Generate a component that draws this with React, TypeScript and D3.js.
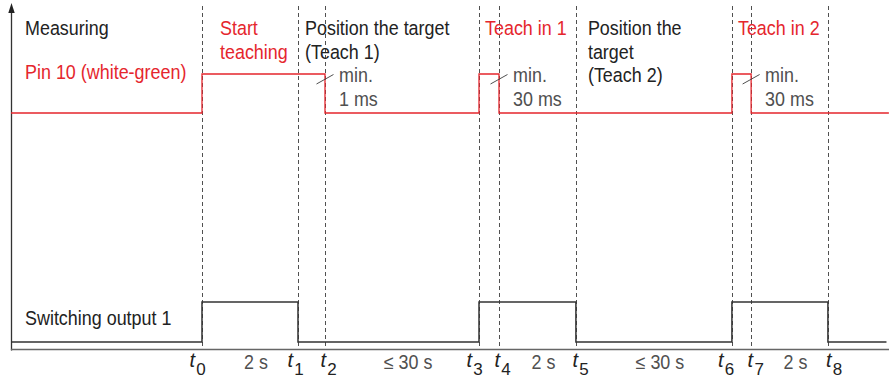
import React from 'react';
import * as d3 from 'd3';

// ---- data ----
const eventIds = ['0', '1', '2', '3', '4', '5', '6', '7', '8'];
const eventTimes = [0, 2, 2.5625, 5.771, 6.1875, 7.79, 11.04, 11.44, 13.04];

const pinTimes = [-3.979, 0, 2.5625, 5.771, 6.1875, 11.04, 11.44, 14.31];
const pinLevels = [0, 1, 0, 1, 0, 1, 0, 0];

const outTimes = [-3.979, 0, 2, 5.771, 7.79, 11.04, 13.04, 14.26];
const outLevels = [0, 1, 0, 1, 0, 1, 0, 0];

const durationLabels = ['2 s', '\u2264 30 s', '2 s', '\u2264 30 s', '2 s'];
const durationFrom = [0, 2, 4, 5, 7];
const durationTo = [1, 3, 5, 6, 8];

const phaseTexts = [
  ['Start', 'teaching'],
  ['Position the target', '(Teach 1)'],
  ['Teach in 1'],
  ['Position the', 'target', '(Teach 2)'],
  ['Teach in 2'],
];
const phaseEvent = [0, 1, 3, 5, 6];
const phaseRed = [true, false, true, false, true];

const minEvents = [2, 4, 7];
const minTexts = [['min.', '1 ms'], ['min.', '30 ms'], ['min.', '30 ms']];

const signalNames = ['Measuring', 'Pin 10 (white-green)', 'Switching output 1'];

// ---- layout ----
const W = 889;
const H = 379;
const phaseDx = [18, 7, 6, 12, 6];
const tLabelDx = [-12.5, -10.5, -4.5, -12.5, -4.5, -3.5, -14, -3.5, -2];

const RED = '#e5262d';
const DARK = '#222222';
const GRAY = '#505050';
const FS = 19.5;
const SX = 0.92;

function Txt({ x, y, children, fill, size = FS }: any) {
  return (
    <text
      transform={`translate(${x},${y}) scale(${SX},1)`}
      fill={fill}
      fontSize={size}
      fontFamily="'Liberation Sans', Arial, sans-serif"
    >
      {children}
    </text>
  );
}

export default function App() {
  const x = d3.scaleLinear().domain([-3.979, 14.3125]).range([11, W]);
  const pinY = d3.scaleLinear().domain([0, 1]).range([113, 74]);
  const outY = d3.scaleLinear().domain([0, 1]).range([342, 302]);

  const pinLine = d3
    .line<number>()
    .x((_, i) => x(pinTimes[i]))
    .y((d) => pinY(d))
    .curve(d3.curveStepAfter);
  const outLine = d3
    .line<number>()
    .x((_, i) => x(outTimes[i]))
    .y((d) => outY(d))
    .curve(d3.curveStepAfter);

  const axisX = x(-3.979) + 0.5;
  const axisY = 349.5;
  const lineH = 23.5;

  return (
    <svg
      width={W}
      height={H}
      style={{ position: 'absolute', left: 0, top: 0, display: 'block', background: '#fff' }}
    >
      {/* event dashed lines */}
      {eventTimes.map((t, i) => (
        <line
          key={'ev' + i}
          x1={Math.round(x(t)) + 0.5}
          x2={Math.round(x(t)) + 0.5}
          y1={6}
          y2={axisY}
          stroke={GRAY}
          strokeWidth={1}
          strokeDasharray="4 3"
        />
      ))}

      {/* axes */}
      <line x1={axisX} x2={axisX} y1={10} y2={axisY + 1} stroke="#333" strokeWidth={1.3} />
      <path d={`M${axisX},3 L${axisX - 3.2},13 L${axisX + 3.2},13 Z`} fill="#222" />
      <line x1={axisX - 0.6} x2={W} y1={axisY} y2={axisY} stroke="#666" strokeWidth={1.5} />

      {/* signals */}
      <path d={pinLine(pinLevels) || ''} fill="none" stroke={RED} strokeWidth={1.3} />
      <path d={outLine(outLevels) || ''} fill="none" stroke="#333" strokeWidth={1.5} />

      {/* signal names */}
      <Txt x={25} y={35} fill={DARK}>{signalNames[0]}</Txt>
      <Txt x={25} y={79} fill={RED}>{signalNames[1]}</Txt>
      <Txt x={25} y={325} fill={DARK}>{signalNames[2]}</Txt>

      {/* phase texts */}
      {phaseTexts.map((lines, i) =>
        lines.map((s, j) => (
          <Txt
            key={'ph' + i + '-' + j}
            x={x(eventTimes[phaseEvent[i]]) + phaseDx[i]}
            y={35 + j * lineH}
            fill={phaseRed[i] ? RED : DARK}
          >
            {s}
          </Txt>
        ))
      )}

      {/* min. annotations */}
      {minEvents.map((e, i) => {
        const ex = x(eventTimes[e]);
        return (
          <g key={'min' + i}>
            <line x1={ex - 8.5} y1={84} x2={ex + 8.5} y2={74.5} stroke={GRAY} strokeWidth={1} />
            {minTexts[i].map((s, j) => (
              <Txt key={j} x={ex + 14} y={82 + j * 24} fill={GRAY}>
                {s}
              </Txt>
            ))}
          </g>
        );
      })}

      {/* duration labels */}
      {durationLabels.map((s, i) => {
        const cx = (x(eventTimes[durationFrom[i]]) + x(eventTimes[durationTo[i]])) / 2 + 6;
        return (
          <text
            key={'du' + i}
            transform={`translate(${cx},369) scale(${SX},1)`}
            textAnchor="middle"
            fill={GRAY}
            fontSize={FS}
            fontFamily="'Liberation Sans', Arial, sans-serif"
          >
            {s}
          </text>
        );
      })}

      {/* t labels */}
      {eventIds.map((id, i) => (
        <text
          key={'t' + i}
          x={x(eventTimes[i]) + tLabelDx[i]}
          y={367}
          fill={DARK}
          fontFamily="'Liberation Sans', Arial, sans-serif"
        >
          <tspan fontStyle="italic" fontSize={20}>t</tspan>
          <tspan fontSize={17} dx={1.2} dy={8}>{id}</tspan>
        </text>
      ))}
    </svg>
  );
}
